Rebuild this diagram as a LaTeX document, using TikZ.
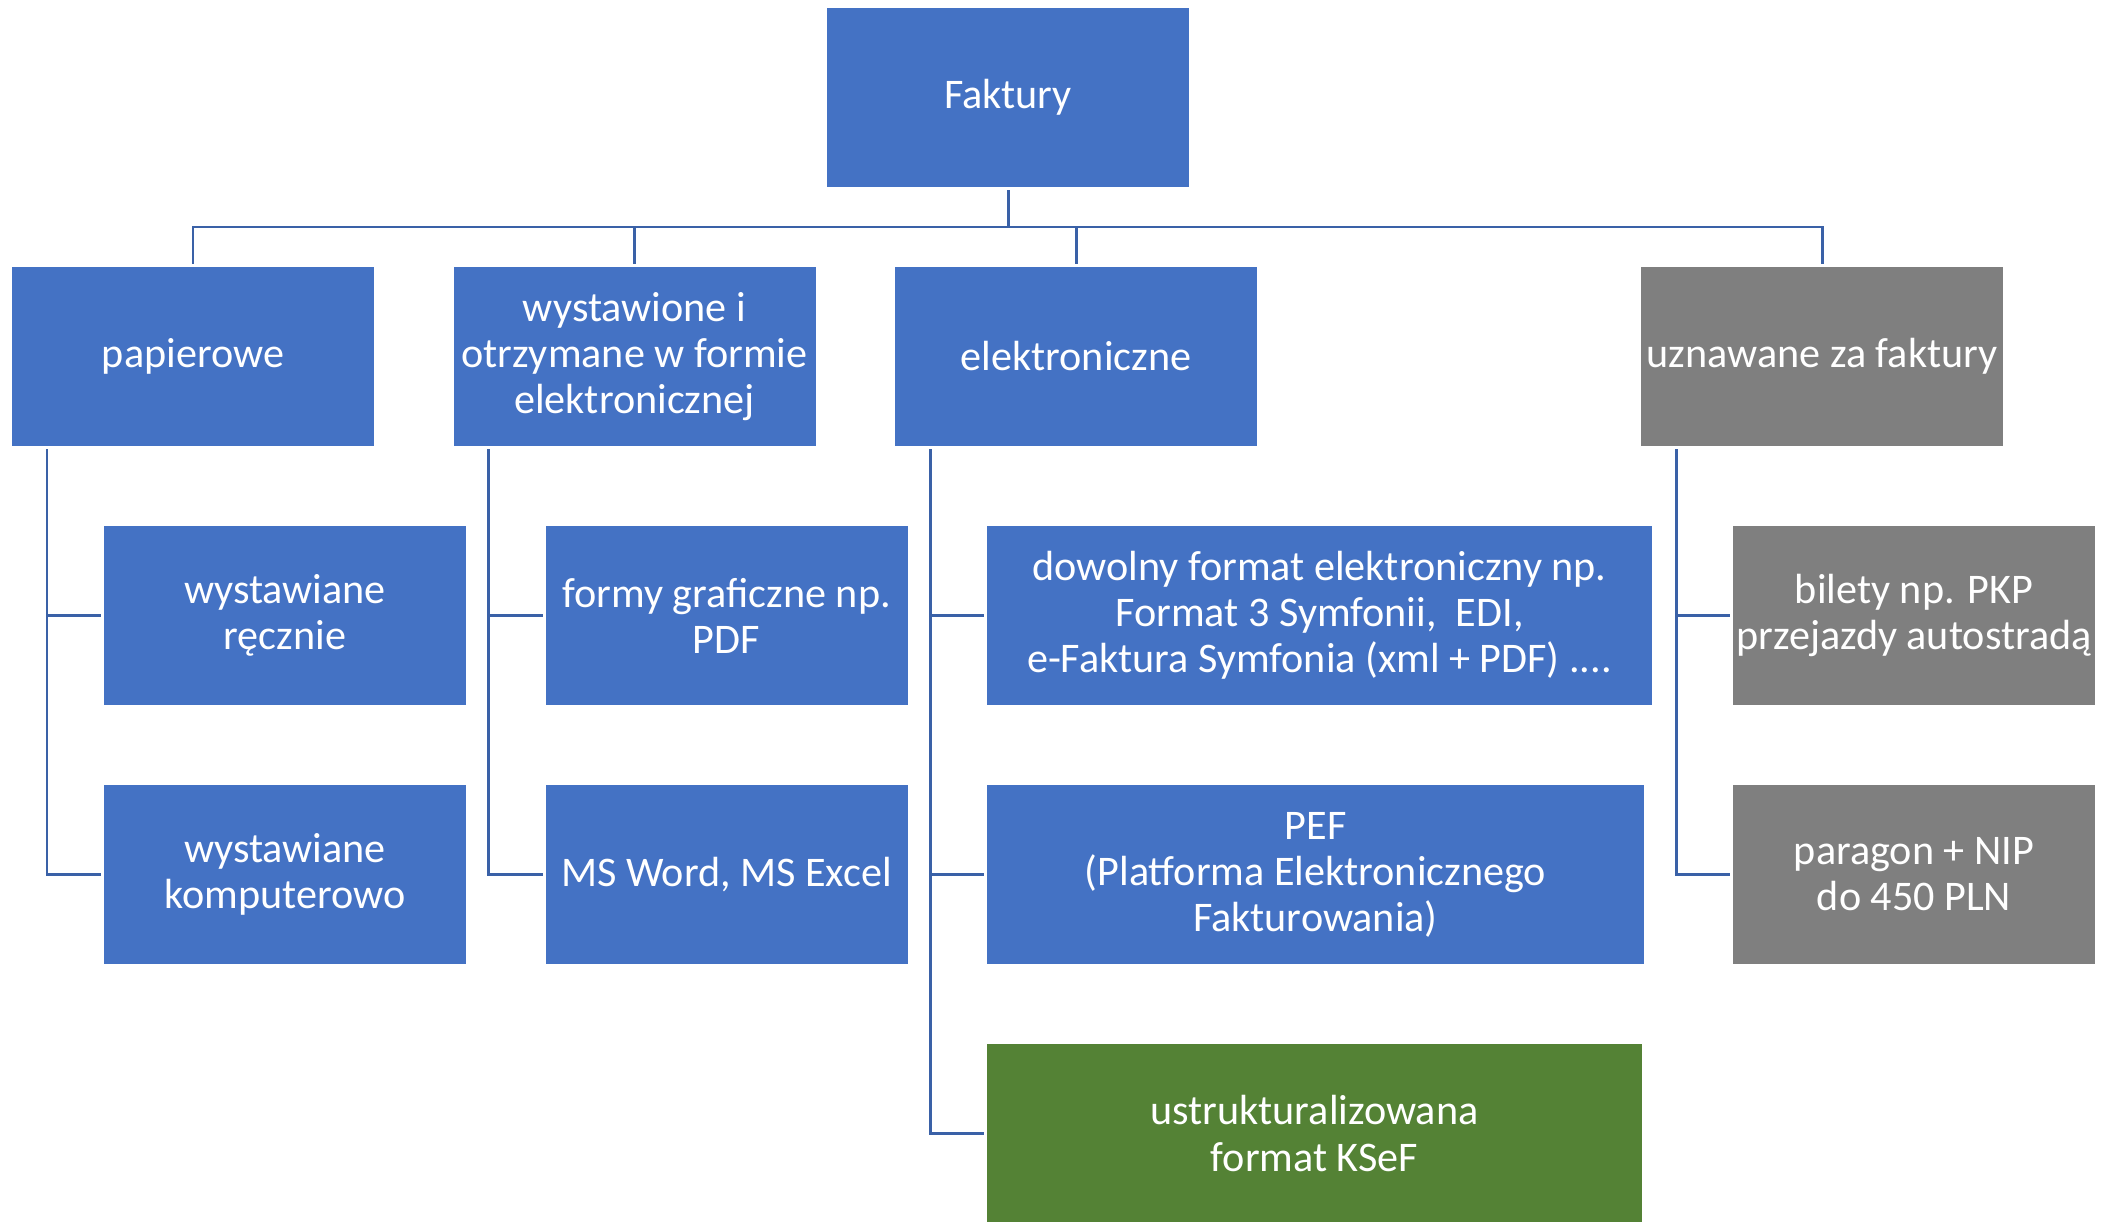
\documentclass[tikz,border=0pt]{standalone}
\usepackage{fontspec}
\setmainfont{Carlito}
\usetikzlibrary{positioning}

\definecolor{boxblue}{HTML}{4472C4}
\definecolor{boxgrey}{HTML}{7F7F7F}
\definecolor{boxgreen}{HTML}{548235}
\definecolor{linkblue}{HTML}{3A61A7}

\begin{document}
\begin{tikzpicture}[
  every node/.style={fill=boxblue, text=white, minimum width=3.62cm, minimum height=1.79cm,
    inner sep=0.05cm, outer sep=0.03cm, align=center,
    font=\fontsize{12}{13.1}\selectfont, node distance=0.74cm},
  other/.style={fill=boxgrey},
  ksef/.style={fill=boxgreen},
  link/.style={draw=linkblue, line width=0.85pt},
  ] %
  \useasboundingbox (0,0) rectangle (21.08,-12.21);
  \node (root) at (10.08,-0.975) {Faktury};
  % first level
  \node (pap) at (1.93,-3.565) {papierowe};
  \node[right=0.735cm of pap] (wys) {wystawione i\\otrzymane w formie\\elektronicznej};
  \node[right=0.735cm of wys] (ele) {elektroniczne};
  \node[other, right=3.78cm of ele] (uzn) {uznawane za faktury};
  % second level
  \node[below=of pap.south west, anchor=north west, xshift=0.92cm] (recz) {wystawiane\\ręcznie};
  \node[below=of recz.south west, anchor=north west] (komp) {wystawiane\\komputerowo};
  \node[below=of wys.south west, anchor=north west, xshift=0.92cm] (graf) {formy graficzne np.\\PDF};
  \node[below=of graf.south west, anchor=north west] (word) {MS Word, MS Excel};
  \node[below=of ele.south west, anchor=north west, xshift=0.92cm, minimum width=6.65cm] (dow)
    {dowolny format elektroniczny np.\\Format 3 Symfonii,~ EDI,\\e-Faktura Symfonia (xml + PDF) ....};
  \node[below=of dow.south west, anchor=north west, minimum width=6.57cm] (pef)
    {PEF\\(Platforma Elektronicznego\\Fakturowania)};
  \node[ksef, below=of pef.south west, anchor=north west, minimum width=6.55cm] (kse)
    {ustrukturalizowana\\format KSeF};
  \node[other, inner xsep=0pt, below=of uzn.south west, anchor=north west, xshift=0.92cm] (bil)
    {bilety np. PKP\\przejazdy autostradą};
  \node[other, below=of bil.south west, anchor=north west] (par) {paragon + NIP\\do 450 PLN};
  % connectors
  \foreach \n in {pap,wys,ele,uzn}
    \draw[link] (root.south) -- ++(0,-0.37) -| (\n.north);
  \foreach \p/\c in {pap/recz,pap/komp,wys/graf,wys/word,ele/dow,ele/pef,ele/kse,uzn/bil,uzn/par}
    \draw[link] ([xshift=0.38cm]\p.south west) |- (\c.west);
\end{tikzpicture}
\end{document}
